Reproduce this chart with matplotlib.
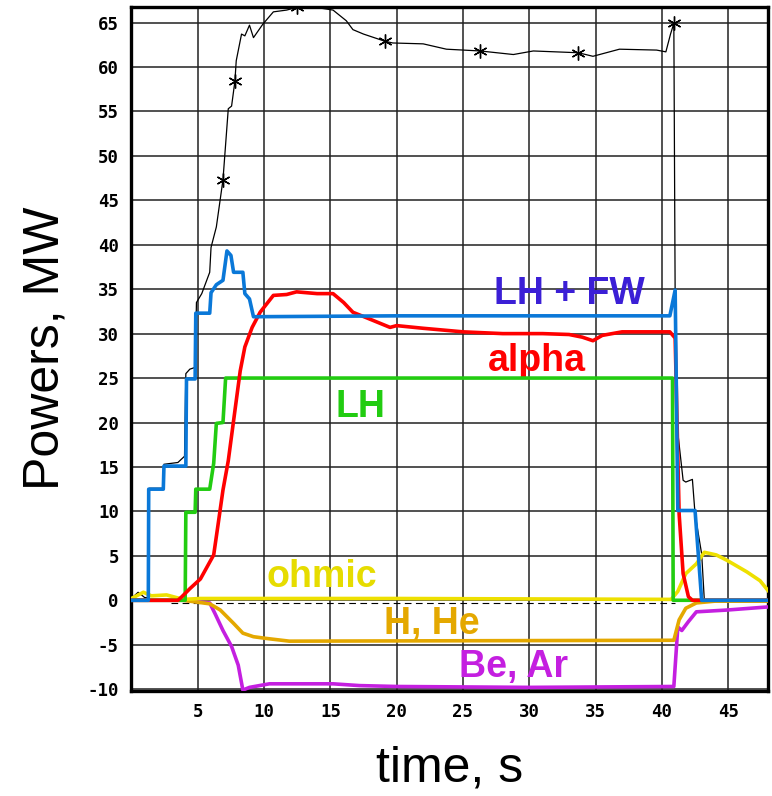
import numpy as np
import matplotlib.pyplot as plt

plt.rcParams['axes.unicode_minus'] = False

# Powers vs time
t_tot = [0, 0.5, 1.0, 1.3, 1.35, 2.4, 2.45, 3.5, 4.0, 4.1, 4.4, 4.8, 4.9, 5.3, 5.9, 6.0, 6.4,
         6.9, 7.3, 7.55, 7.8, 7.9, 8.3, 8.55, 8.9, 9.2, 9.9, 10.7, 11.7, 12.45, 13.5, 15.2,
         16.2, 16.7, 17.5, 19.1, 19.7, 22.0, 23.75, 26.3, 28.8, 30.3, 33.7, 34.8, 36.8,
         39.6, 40.3, 40.65, 40.9, 41.0, 41.1, 41.6, 41.8, 42.3, 42.5, 43.0, 43.2, 48]
p_tot = [0.2, 0.9, 0.3, 0.3, 12.6, 12.6, 15.3, 15.5, 16.2, 25.5, 26.0, 26.2, 33.5, 34.5, 36.9,
         39.7, 42.0, 47.3, 55.3, 55.6, 58.4, 60.7, 63.7, 63.5, 64.7, 63.3, 64.8, 66.2, 66.4,
         66.7, 66.8, 66.4, 65.2, 64.2, 63.7, 62.9, 62.7, 62.6, 62.0, 61.8, 61.4, 61.8, 61.6,
         61.2, 62.0, 61.9, 61.7, 63.7, 64.9, 34.0, 20.2, 13.5, 13.3, 13.6, 9.7, 5.2, 0, 0]
t_star = [6.9, 7.8, 12.45, 19.1, 26.3, 33.7, 40.9]
p_star = [47.3, 58.4, 66.7, 62.9, 61.8, 61.6, 64.9]

t_lhfw = [0, 1.27, 1.3, 2.4, 2.45, 4.1, 4.15, 4.8, 4.85, 5.9, 6.0, 6.4, 6.9, 7.2, 7.5, 7.7,
          8.4, 8.55, 8.9, 9.2, 20, 40.6, 41.0, 41.2, 42.5, 43.0, 48]
p_lhfw = [0, 0, 12.5, 12.5, 15.1, 15.1, 24.9, 24.9, 32.3, 32.3, 34.6, 35.5, 36.0, 39.3, 38.8,
          36.9, 36.9, 34.5, 33.9, 31.9, 32.0, 32.0, 34.9, 10.1, 10.1, 0, 0]

t_alpha = [0, 3.5, 3.8, 4.4, 5.2, 6.2, 6.5, 6.9, 7.3, 7.7, 8.2, 8.55, 9.1, 9.7, 10.7, 11.7,
           12.45, 14.0, 15.2, 16.0, 16.7, 17.7, 19.5, 20, 22, 25, 28, 31, 33, 34.0, 34.8,
           35.5, 37, 40.6, 41.0, 41.3, 41.6, 42.0, 42.3, 48]
p_alpha = [0, 0, 0.4, 1.3, 2.4, 5.1, 8.2, 12.4, 15.7, 20.2, 25.8, 28.5, 30.7, 32.4, 34.3, 34.4,
           34.7, 34.5, 34.5, 33.5, 32.4, 31.8, 30.7, 30.9, 30.6, 30.2, 30.0, 30.0, 29.9, 29.6,
           29.2, 29.8, 30.2, 30.2, 29.5, 9.7, 3.0, 0.4, 0, 0]

t_lh = [0, 4.05, 4.1, 4.8, 4.85, 5.9, 6.2, 6.4, 6.9, 7.1, 40.8, 40.85, 48]
p_lh = [0, 0, 9.9, 9.9, 12.5, 12.5, 15.4, 19.9, 20.0, 25.0, 25.0, 0, 0]

t_ohm = [0, 0.9, 1.5, 2.65, 3.9, 5.2, 20, 40.7, 41.2, 41.8, 42.6, 43.2, 44.1, 44.9, 46.4, 47.4, 48]
p_ohm = [0.2, 0.9, 0.5, 0.6, 0.1, 0.2, 0.2, 0.1, 1.0, 3.0, 4.1, 5.4, 5.1, 4.5, 3.2, 2.2, 1.1]

t_hhe = [0, 3.9, 5.9, 6.7, 7.7, 8.4, 9.2, 10.2, 11.9, 40.9, 41.3, 41.8, 42.6, 44, 48]
p_hhe = [0, 0, -0.4, -1.1, -2.6, -3.7, -4.1, -4.3, -4.6, -4.5, -2.2, -0.9, -0.3, -0.1, -0.1]

t_bear = [0, 4.0, 5.9, 6.3, 6.9, 7.55, 8.05, 8.4, 8.9, 10.4, 15.2, 17.2, 20, 30, 40.9,
          41.2, 41.5, 42.0, 42.6, 44.9, 48]
p_bear = [0, 0, -0.3, -1.5, -3.4, -5.2, -7.3, -10.1, -9.8, -9.4, -9.4, -9.6, -9.7, -9.8,
          -9.7, -3.0, -3.4, -2.4, -1.3, -1.1, -0.75]

fig = plt.figure(figsize=(7.72, 7.96), dpi=100)
ax = fig.add_axes([0.1703, 0.132, 0.8245, 0.8598])

ax.plot(t_tot, p_tot, color='black', lw=0.9, zorder=2)
ax.plot(t_star, p_star, ls='none', marker=(6, 2, 0), ms=10, mew=1.0, color='black', zorder=2)
ax.plot([3.0, 41.0], [-0.3, -0.3], color='black', lw=0.8, ls=(0, (6, 4)), zorder=2)

lw = 2.6
ax.plot(t_bear, p_bear, color='#c41fe0', lw=lw, zorder=3)
ax.plot(t_hhe, p_hhe, color='#e4a800', lw=lw, zorder=3)
ax.plot(t_ohm, p_ohm, color='#eee000', lw=lw, zorder=3)
ax.plot(t_lh, p_lh, color='#22cc11', lw=lw, zorder=4)
ax.plot(t_alpha, p_alpha, color='#ff0000', lw=lw, zorder=5)
ax.plot(t_lhfw, p_lhfw, color='#0a78d8', lw=lw, zorder=5)

lab = dict(family='Liberation Sans', weight='bold', fontsize=27, ha='center', va='baseline')
ax.text(33.0, 33.3, 'LH + FW', color='#3b1fd6', **lab)
ax.text(30.6, 25.8, 'alpha', color='#ff0000', **lab)
ax.text(17.25, 20.6, 'LH', color='#22cc11', **lab)
ax.text(14.33, 1.45, 'ohmic', color='#e6dc00', **lab)
ax.text(22.65, -3.74, 'H, He', color='#e4a800', **lab)
ax.text(28.8, -8.6, 'Be, Ar', color='#c41fe0', **lab)

ax.set_xlim(0, 48)
ax.set_ylim(-10.2, 66.8)
ax.set_xticks(np.arange(5, 50, 5))
ax.set_yticks(np.arange(-10, 70, 5))
ax.tick_params(length=0, labelsize=12.5, pad=9)
for lbl in ax.get_xticklabels() + ax.get_yticklabels():
    lbl.set_family('DejaVu Sans Mono')
    lbl.set_weight('bold')
ax.grid(color='#222222', lw=1.1)
ax.set_axisbelow(True)
for s in ax.spines.values():
    s.set_linewidth(2.4)

ax.set_ylabel('Powers, MW', family='Liberation Sans', fontsize=36, labelpad=14)
ax.set_xlabel('time, s', family='Liberation Sans', fontsize=36, labelpad=17)

plt.savefig('out.png', dpi=100)
